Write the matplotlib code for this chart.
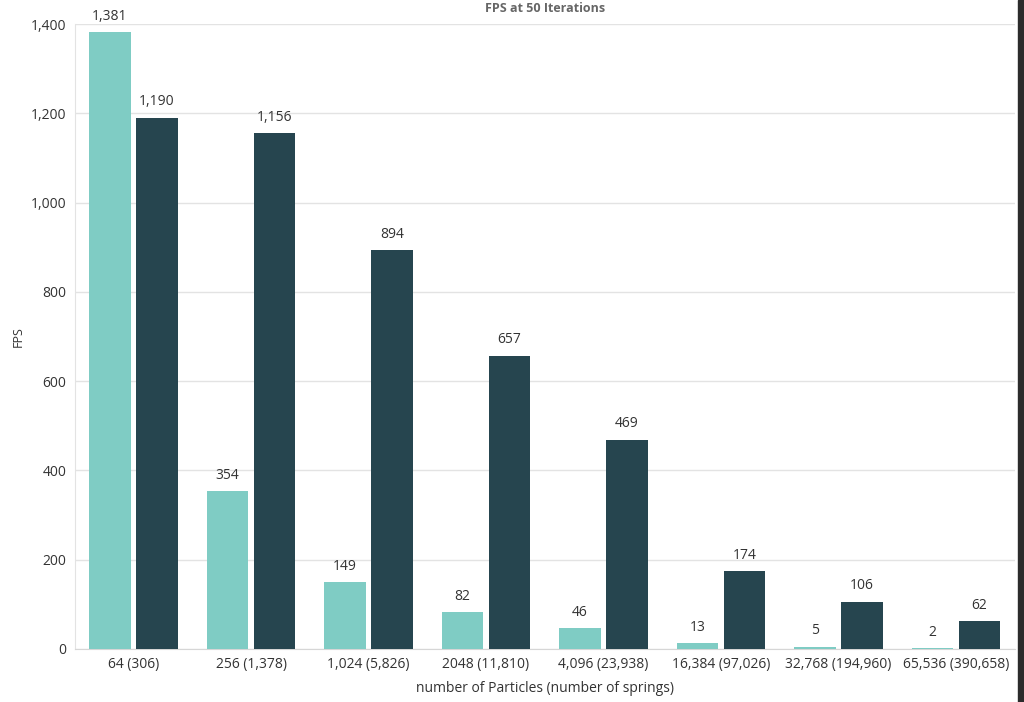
import matplotlib
matplotlib.use("Agg")
import matplotlib.pyplot as plt
from matplotlib.patches import Rectangle
import numpy as np

categories = ["64 (306)", "256 (1,378)", "1,024 (5,826)", "2048 (11,810)",
              "4,096 (23,938)", "16,384 (97,026)", "32,768 (194,960)", "65,536 (390,658)"]
series_a = [1381, 354, 149, 82, 46, 13, 5, 2]
series_b = [1190, 1156, 894, 657, 469, 174, 106, 62]

plt.rcParams["font.family"] = ["Open Sans", "DejaVu Sans"]

fig = plt.figure(figsize=(10.24, 7.02), dpi=100)
ax = fig.add_axes([0.073, 0.0755, 0.918, 0.8903])

x = np.arange(len(categories))
w = 0.35
ba = ax.bar(x - 0.2, series_a, w, color="#7FCCC4", zorder=3)
bb = ax.bar(x + 0.2, series_b, w, color="#26454F", zorder=3)

for bars in (ba, bb):
    for r in bars:
        ax.annotate(f"{int(r.get_height()):,}", (r.get_x() + r.get_width() / 2, r.get_height()),
                    xytext=(0, 6), textcoords="offset points", ha="center", va="bottom",
                    fontsize=10, color="#333333")

ax.set_xlim(-0.5, len(categories) - 0.5)
ax.set_ylim(0, 1400)
ax.set_yticks(range(0, 1401, 200))
ax.yaxis.set_major_formatter(matplotlib.ticker.FuncFormatter(lambda v, p: f"{int(v):,}"))
ax.set_xticks(x)
ax.set_xticklabels(categories)
ax.tick_params(axis="both", length=0, labelsize=10, labelcolor="#333333")
ax.tick_params(axis="x", pad=6)
ax.tick_params(axis="y", pad=6)
ax.grid(axis="y", color="#e3e3e3", linewidth=1, zorder=0)
for s in ("top", "right"):
    ax.spines[s].set_visible(False)
ax.spines["left"].set_color("#e3e3e3")
ax.spines["bottom"].set_color("#d6d6d6")

ax.set_ylabel("FPS", fontsize=9, color="#333333", labelpad=4)
ax.set_xlabel("number of Particles (number of springs)", fontsize=10, color="#333333", labelpad=6)
fig.text(0.532, 0.988, "FPS at 50 Iterations", ha="center", va="center",
         fontsize=9, fontweight="bold", color="#666666")

fig.patches.append(Rectangle((1018 / 1024, 0), 6 / 1024, 1, transform=fig.transFigure,
                             color="#2b2b2b", zorder=10))

fig.savefig("out.png", dpi=100)
